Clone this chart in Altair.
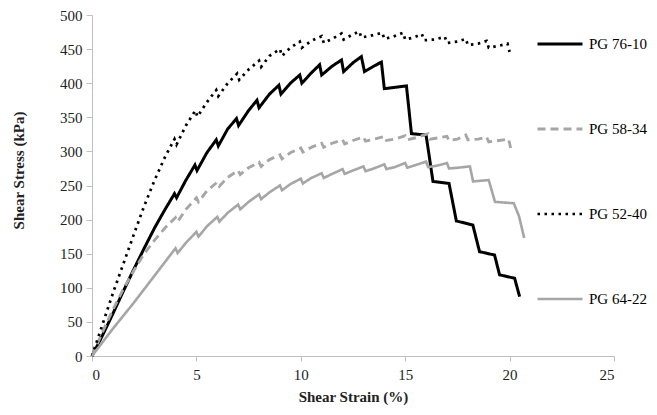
import altair as alt
import pandas as pd

series_names = ["PG 76-10", "PG 58-34", "PG 52-40", "PG 64-22"]
series_colors = ["#000000", "#a6a6a6", "#000000", "#a6a6a6"]
series_dash = [[1, 0], [8, 5], [2.5, 4.5], [1, 0]]
series_width = [3, 2.6, 2.6, 2.6]

x_ticks = [0, 5, 10, 15, 20, 25]
y_ticks = [0, 50, 100, 150, 200, 250, 300, 350, 400, 450, 500]

# PG 76-10 (solid black)
pg7610_strain = [0, 0.5, 1, 1.5, 2, 2.5, 3, 3.5, 3.95, 4.05, 4.5, 4.93, 5.03, 5.5, 5.95, 6.05,
                 6.5, 6.92, 7.02, 7.5, 7.9, 8.0, 8.5, 8.95, 9.05, 9.5, 9.95, 10.05, 10.5, 10.9,
                 11.0, 11.5, 11.95, 12.05, 12.5, 12.9, 13.05, 13.5, 13.86, 14.0, 15.06, 15.3,
                 16.0, 16.33, 17.1, 17.45, 18.24, 18.56, 19.28, 19.52, 20.24, 20.48]
pg7610_stress = [0, 30, 62, 95, 127, 158, 188, 215, 238, 232, 258, 280, 272, 298, 317, 308,
                 333, 348, 338, 360, 375, 364, 384, 397, 384, 400, 412, 400, 415, 427,
                 412, 425, 434, 417, 430, 439, 417, 425, 431, 392, 396, 326,
                 324, 256, 253, 198, 192, 153, 148, 119, 114, 87]

# PG 52-40 (dotted black)
pg5240_strain = [0, 0.5, 1, 1.5, 2, 2.5, 3, 3.5, 3.95, 4.05, 4.5, 4.95, 5.05, 5.5, 5.95, 6.05,
                 6.5, 6.95, 7.05, 7.5, 8.0, 8.1, 8.5, 9.0, 9.1, 9.5, 9.95, 10.05, 10.5, 11.0,
                 11.1, 11.5, 11.95, 12.05, 12.4, 12.8, 12.9, 13.4, 13.9, 14.0, 14.4, 14.9, 15.0,
                 15.4, 15.8, 15.9, 16.4, 16.9, 17.0, 17.5, 17.9, 18.0, 18.5, 18.9, 19.0, 19.5,
                 19.9, 20.0]
pg5240_stress = [0, 46, 92, 135, 178, 220, 258, 292, 318, 310, 338, 360, 351, 372, 390, 381,
                 400, 414, 405, 420, 433, 424, 440, 450, 440, 452, 461, 452, 462, 469,
                 459, 465, 473, 464, 470, 476, 467, 470, 474, 465, 468, 474, 464,
                 467, 472, 463, 464, 468, 459, 461, 465, 456, 458, 462, 452, 455,
                 458, 446]

# PG 58-34 (dashed grey)
pg5834_strain = [0, 0.5, 1, 1.5, 2, 2.5, 3, 3.5, 4.0, 4.1, 4.5, 5.0, 5.1, 5.5, 6.0, 6.1, 6.5,
                 7.0, 7.1, 7.5, 8.0, 8.1, 8.5, 9.0, 9.1, 9.5, 10.0, 10.1, 10.5, 11.0, 11.1,
                 11.5, 12.0, 12.1, 12.5, 13.0, 13.1, 13.5, 14.0, 14.1, 14.5, 15.0, 15.1, 15.5,
                 16.1, 16.2, 16.6, 17.0, 17.1, 17.5, 17.9, 18.0, 18.5, 18.9, 19.0, 19.5,
                 19.95, 20.05]
pg5834_stress = [0, 35, 68, 98, 125, 150, 170, 188, 203, 197, 215, 232, 226, 242, 255, 249, 262,
                 272, 266, 276, 284, 278, 288, 295, 289, 298, 305, 299, 306, 312, 306,
                 312, 317, 311, 316, 321, 315, 318, 322, 316, 318, 323, 317, 320,
                 326, 318, 320, 322, 316, 318, 324, 317, 318, 321, 314, 316,
                 318, 305]

# PG 64-22 (solid grey)
pg6422_strain = [0, 0.5, 1, 1.5, 2, 2.5, 3, 3.5, 4.0, 4.1, 4.5, 5.0, 5.1, 5.5, 6.0, 6.1, 6.5,
                 7.0, 7.1, 7.5, 8.0, 8.1, 8.5, 9.0, 9.1, 9.5, 10.0, 10.1, 10.5, 11.0, 11.1,
                 11.5, 12.0, 12.1, 12.5, 13.0, 13.1, 13.5, 14.0, 14.1, 14.5, 15.0, 15.1, 15.5,
                 16.0, 16.1, 16.5, 17.0, 17.1, 17.5, 18.1, 18.25, 19.0, 19.3, 20.2, 20.45, 20.7]
pg6422_stress = [0, 20, 40, 59, 78, 98, 118, 138, 158, 151, 166, 182, 175, 190, 204, 197, 210,
                 222, 215, 226, 237, 230, 240, 250, 243, 252, 260, 253, 261, 268, 261,
                 267, 274, 267, 272, 278, 271, 275, 281, 274, 277, 283, 276, 280,
                 285, 277, 279, 283, 275, 276, 278, 256, 258, 226, 224, 205, 173]

frames = []
for name, xs, ys in [("PG 76-10", pg7610_strain, pg7610_stress),
                     ("PG 58-34", pg5834_strain, pg5834_stress),
                     ("PG 52-40", pg5240_strain, pg5240_stress),
                     ("PG 64-22", pg6422_strain, pg6422_stress)]:
    frames.append(pd.DataFrame({"series": name, "strain": xs, "stress": ys, "order": range(len(xs))}))
df = pd.concat(frames, ignore_index=True)

font = "Liberation Serif"

legend = alt.Legend(
    title=None, orient="none", legendX=444, legendY=5,
    symbolType="stroke", symbolSize=2025, symbolStrokeWidth=3,
    labelFont=font, labelFontSize=15, labelColor="#000000", labelOffset=5,
    rowPadding=53, labelLimit=200,
)

chart = alt.Chart(df).mark_line(strokeJoin="miter", strokeCap="butt").encode(
    x=alt.X("strain:Q", scale=alt.Scale(domain=[0, 25], nice=False),
            axis=alt.Axis(values=x_ticks, title="Shear Strain (%)", grid=False,
                          tickSize=5, labelPadding=6, titleY=33)),
    y=alt.Y("stress:Q", scale=alt.Scale(domain=[0, 500], nice=False),
            axis=alt.Axis(values=y_ticks, title="Shear Stress (kPa)", grid=False,
                          tickSize=6, labelPadding=4, titleX=-66, titleY=155)),
    color=alt.Color("series:N", scale=alt.Scale(domain=series_names, range=series_colors), legend=legend),
    strokeDash=alt.StrokeDash("series:N", scale=alt.Scale(domain=series_names, range=series_dash), legend=legend),
    strokeWidth=alt.StrokeWidth("series:N", scale=alt.Scale(domain=series_names, range=series_width), legend=None),
    order="order:Q",
).properties(
    width=522, height=341,
    autosize=alt.AutoSizeParams(type="none"),
    padding={"left": 84, "top": 7, "right": 35, "bottom": 51},
).configure_view(stroke=None).configure_axis(
    domainColor="#bfbfbf", tickColor="#bfbfbf", domainWidth=1, tickWidth=1,
    labelFont=font, labelFontSize=15, labelColor="#222222",
    titleFont=font, titleFontSize=15, titleFontWeight="bold", titleColor="#222222",
)

chart.save("out.html", embed_options={"renderer": "svg", "actions": False})
